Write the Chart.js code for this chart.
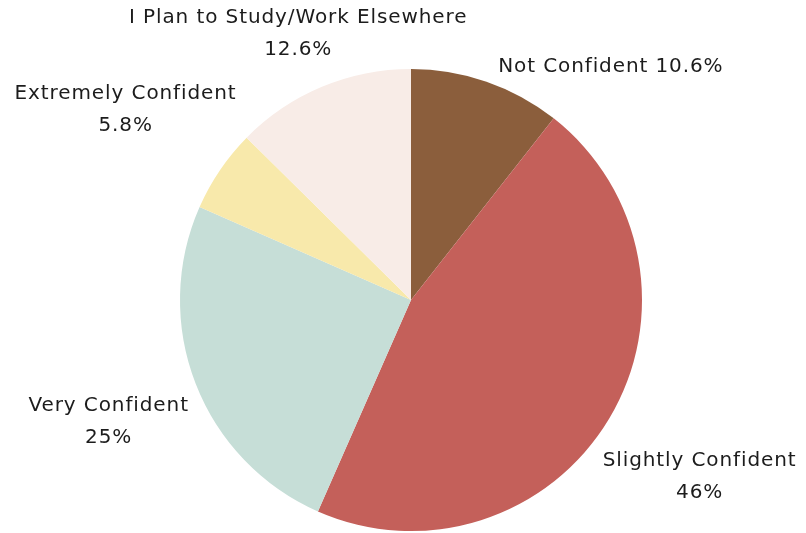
<!DOCTYPE html>
<html>
<head>
<meta charset="utf-8">
<script src="https://cdn.jsdelivr.net/npm/chart.js@4.4.0/dist/chart.umd.min.js"></script>
<style>
  html, body { margin: 0; padding: 0; background: #fff; }
  #wrap { width: 806px; height: 533px; }
</style>
</head>
<body>
<div id="wrap"><canvas id="chart"></canvas></div>
<script>
const categories = ['Not Confident', 'Slightly Confident', 'Very Confident', 'Extremely Confident', 'I Plan to Study/Work Elsewhere'];
const shares = [10.6, 46, 25, 5.8, 12.6];
const shareLabels = ['10.6%', '46%', '25%', '5.8%', '12.6%'];
const oneLine = [true, false, false, false, false];
const colors = ['#8b5e3c', '#c4605a', '#c6ded7', '#f8e9ab', '#f8ece7'];

const FONT = '20px "DejaVu Sans", sans-serif';
const LINE_H = 32;
const GAP = 7;
const PAD = 30;
const TEXT_DY = 4;

// put each label outside its slice, pushed out along its angle until the
// text box clears the pie; big slices first, later ones slide round if they collide
const outsideLabels = {
  id: 'outsideLabels',
  afterDatasetsDraw(chart) {
    const ctx = chart.ctx;
    const meta = chart.getDatasetMeta(0);
    ctx.save();
    ctx.font = FONT;
    ctx.letterSpacing = '0.9px';
    ctx.fillStyle = '#1c1c1c';
    ctx.textAlign = 'center';
    ctx.textBaseline = 'middle';

    const place = (arc, ang, hw, hh) => {
      const ux = Math.cos(ang), uy = Math.sin(ang);
      const target = arc.outerRadius + GAP;
      let lo = 0, hi = 1000;
      for (let k = 0; k < 40; k++) {
        const d = (lo + hi) / 2;
        const cx = d * ux, cy = d * uy;
        const nx = Math.max(cx - hw, Math.min(0, cx + hw));
        const ny = Math.max(cy - hh, Math.min(0, cy + hh));
        if (Math.hypot(nx, ny) < target) lo = d; else hi = d;
      }
      return { x: arc.x + hi * ux, y: arc.y + hi * uy, hw, hh, ang };
    };
    const hits = (a, b) =>
      Math.abs(a.x - b.x) < a.hw + b.hw + PAD && Math.abs(a.y - b.y) < a.hh + b.hh;

    const order = shares.map((v, i) => i).sort((a, b) => shares[b] - shares[a]);
    const placed = [];
    order.forEach(i => {
      const arc = meta.data[i];
      const lines = oneLine[i]
        ? [categories[i] + ' ' + shareLabels[i]]
        : [categories[i], shareLabels[i]];
      const hw = Math.max(...lines.map(l => ctx.measureText(l).width)) / 2;
      const hh = lines.length * LINE_H / 2;
      const mid = (arc.startAngle + arc.endAngle) / 2;
      let box = place(arc, mid, hw, hh);
      let guard = 0;
      let other;
      while ((other = placed.find(p => hits(box, p))) && guard++ < 200) {
        let diff = mid - other.ang;
        while (diff > Math.PI) diff -= 2 * Math.PI;
        while (diff < -Math.PI) diff += 2 * Math.PI;
        box = place(arc, box.ang + (diff >= 0 ? 1 : -1) * Math.PI / 360, hw, hh);
      }
      placed.push(box);
      lines.forEach((l, j) => {
        ctx.fillText(l, box.x, box.y - hh + LINE_H / 2 + j * LINE_H + TEXT_DY);
      });
    });
    ctx.restore();
  }
};

new Chart(document.getElementById('chart'), {
  type: 'pie',
  data: {
    labels: categories,
    datasets: [{
      data: shares,
      backgroundColor: colors,
      borderWidth: 0
    }]
  },
  options: {
    responsive: true,
    maintainAspectRatio: false,
    animation: false,
    layout: { padding: { top: 69, bottom: 2, left: 16, right: 0 } },
    plugins: {
      legend: { display: false },
      tooltip: { enabled: false }
    }
  },
  plugins: [outsideLabels]
});
</script>
</body>
</html>
